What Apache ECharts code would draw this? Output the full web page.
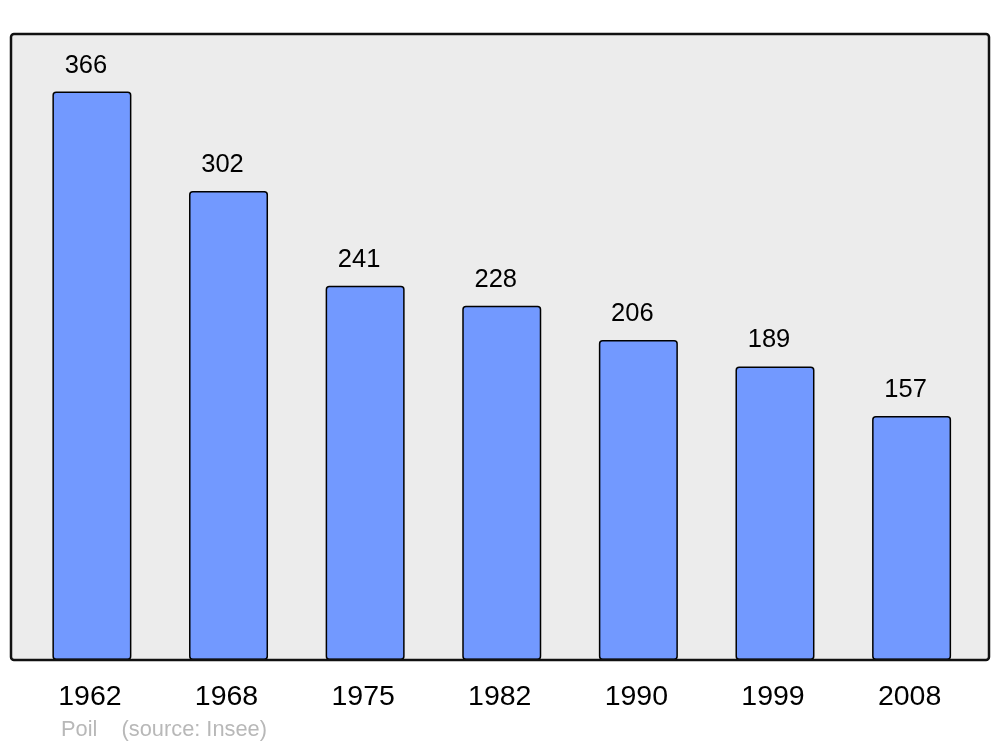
<!DOCTYPE html>
<html>
<head>
<meta charset="utf-8">
<script src="https://cdn.jsdelivr.net/npm/echarts@6/dist/echarts.min.js"></script>
<style>
html,body{margin:0;padding:0;background:#fff;}
#chart{width:1000px;height:747px;}
</style>
</head>
<body>
<div id="chart"></div>
<script>
const years = ['1962', '1968', '1975', '1982', '1990', '1999', '2008'];
const population = [366, 302, 241, 228, 206, 189, 157];
const footerText = 'Poil    (source: Insee)';

const chart = echarts.init(document.getElementById('chart'), null, {renderer: 'canvas'});
const font = '"Liberation Sans", Arial, sans-serif';
chart.setOption({
  animation: false,
  backgroundColor: '#ffffff',
  grid: {left: 23.6, top: 34, width: 956.3, height: 626, containLabel: false},
  xAxis: {
    type: 'category',
    data: years,
    axisLine: {show: false},
    axisTick: {show: false},
    axisLabel: {color: '#000', fontSize: 28.5, fontFamily: font, margin: 23, padding: [0, 4, 0, 0]}
  },
  yAxis: {
    type: 'value',
    min: 0,
    max: 403,
    show: false,
    splitLine: {show: false}
  },
  graphic: [
    {type: 'rect', z: -10, shape: {x: 11, y: 34, width: 978, height: 626, r: 3},
     style: {fill: '#ececec', stroke: null}},
    {type: 'rect', z: 100, shape: {x: 11, y: 34, width: 978, height: 626, r: 3},
     style: {fill: null, stroke: '#111', lineWidth: 2.5}},
    {type: 'text', left: 61, top: 719, z: 100,
     style: {text: footerText, fill: '#b8b8b8', fontSize: 21.8, fontFamily: font}}
  ],
  series: [{
    type: 'bar',
    data: population,
    barWidth: 79,
    itemStyle: {color: '#7299ff', borderColor: '#000', borderWidth: 1.5, borderRadius: 3},
    label: {show: true, position: 'top', distance: 13, offset: [-6, 0], color: '#000', fontSize: 25.5, fontFamily: font}
  }]
});
</script>
</body>
</html>
